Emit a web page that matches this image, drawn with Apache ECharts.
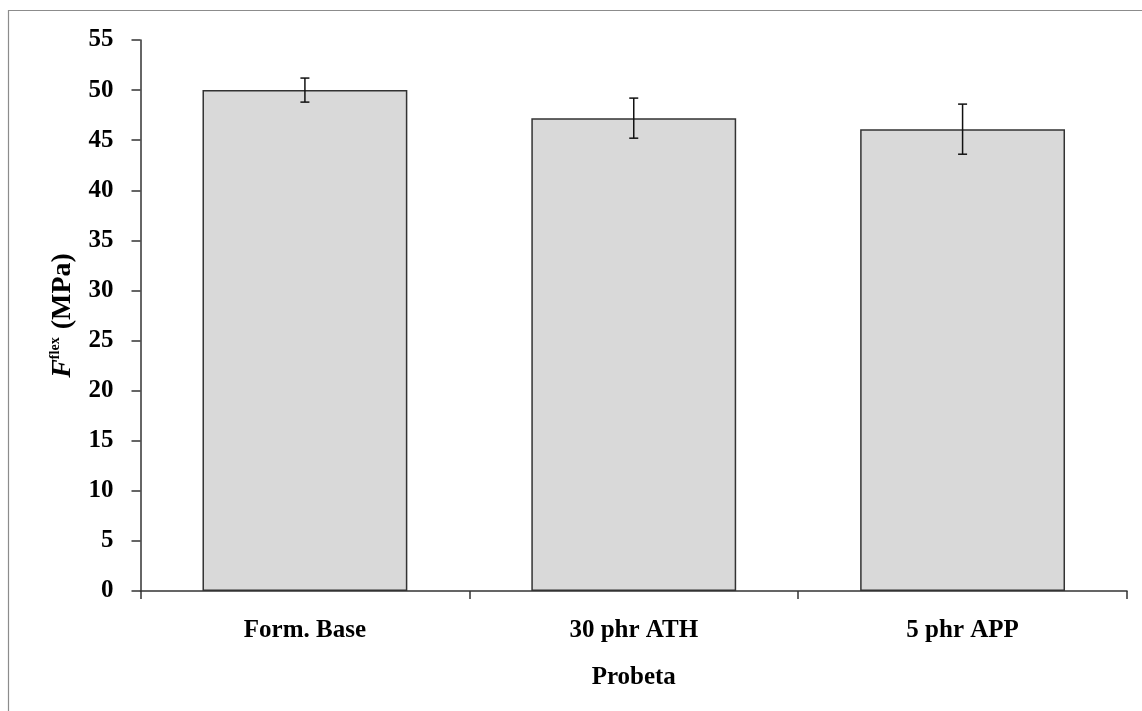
<!DOCTYPE html>
<html>
<head>
<meta charset="utf-8">
<script src="https://cdn.jsdelivr.net/npm/echarts@6/dist/echarts.min.js"></script>
<style>
html,body{margin:0;padding:0;background:#fff;}
#chart{width:1142px;height:711px;}
</style>
</head>
<body>
<div id="chart"></div>
<script>
var categories = ['Form. Base', '30 phr ATH', '5 phr APP'];
var values = [50.0, 47.2, 46.1];
var errors = [1.2, 2.0, 2.5];
var yTicks = { min: 0, max: 55, interval: 5 };

var FONT = '"Liberation Serif", "Times New Roman", serif';
var chart = echarts.init(document.getElementById('chart'));

var errData = values.map(function (v, i) { return [i, v - errors[i], v + errors[i]]; });

chart.setOption({
  animation: false,
  backgroundColor: '#fff',
  graphic: [{
    type: 'rect',
    shape: { x: 8.5, y: 10.5, width: 1200, height: 800 },
    style: { fill: 'none', stroke: '#8c8c8c', lineWidth: 1.2 },
    silent: true
  }],
  grid: { left: 140.5, right: 15, top: 40, bottom: 120, containLabel: false },
  xAxis: {
    type: 'category',
    data: categories,
    boundaryGap: true,
    name: 'Probeta',
    nameLocation: 'middle',
    nameGap: 74,
    nameTextStyle: { fontFamily: FONT, fontWeight: 'bold', fontSize: 25, color: '#000' },
    axisLine: { lineStyle: { color: '#333', width: 1.5 } },
    axisTick: { show: true, length: 8, lineStyle: { color: '#333', width: 1.5 } },
    axisLabel: { fontFamily: FONT, fontWeight: 'bold', fontSize: 25, color: '#000', margin: 27 },
    splitLine: { show: false }
  },
  yAxis: {
    type: 'value',
    min: yTicks.min, max: yTicks.max, interval: yTicks.interval,
    name: '{f|F}{s|flex}{n| (MPa)}',
    nameLocation: 'middle',
    nameRotate: 90,
    nameGap: 64,
    nameTextStyle: {
      fontFamily: FONT, fontWeight: 'bold', fontSize: 28, color: '#000',
      rich: {
        f: { fontFamily: FONT, fontWeight: 'bold', fontStyle: 'italic', fontSize: 28, color: '#000' },
        s: { fontFamily: FONT, fontWeight: 'bold', fontSize: 14, color: '#000', verticalAlign: 'top', padding: [0, 1, 12, 0] },
        n: { fontFamily: FONT, fontWeight: 'bold', fontSize: 28, color: '#000' }
      }
    },
    axisLine: { show: true, lineStyle: { color: '#333', width: 1.5 } },
    axisTick: { show: true, length: 9, lineStyle: { color: '#333', width: 1.5 } },
    axisLabel: { fontFamily: FONT, fontWeight: 'bold', fontSize: 25, color: '#000', margin: 27 },
    splitLine: { show: false }
  },
  series: [{
    type: 'bar',
    data: values,
    barWidth: '62.3%',
    itemStyle: { color: '#d9d9d9', borderColor: '#333', borderWidth: 1.5 },
    z: 2
  }, {
    type: 'custom',
    data: errData,
    z: 5,
    renderItem: function (params, api) {
      var x = api.value(0);
      var lo = api.coord([x, api.value(1)]);
      var hi = api.coord([x, api.value(2)]);
      var cap = 4.5;
      var st = { stroke: '#111', lineWidth: 1.5 };
      return {
        type: 'group',
        children: [
          { type: 'line', shape: { x1: hi[0], y1: hi[1], x2: lo[0], y2: lo[1] }, style: st },
          { type: 'line', shape: { x1: hi[0] - cap, y1: hi[1], x2: hi[0] + cap, y2: hi[1] }, style: st },
          { type: 'line', shape: { x1: lo[0] - cap, y1: lo[1], x2: lo[0] + cap, y2: lo[1] }, style: st }
        ]
      };
    }
  }]
});
</script>
</body>
</html>
